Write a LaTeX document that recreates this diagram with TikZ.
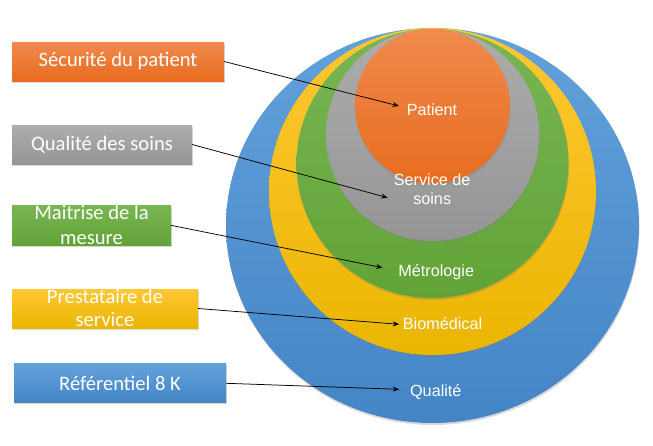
\documentclass[tikz,border=0pt]{standalone}
\usepackage{fontspec}
\setmainfont{Carlito}
\newfontfamily\arialf{Liberation Sans}
\usetikzlibrary{shapes.geometric,shadows,arrows.meta}
\definecolor{orT}{HTML}{F08A4D}\definecolor{orB}{HTML}{E86C1F}
\definecolor{grT}{HTML}{ADADAD}\definecolor{grB}{HTML}{959595}
\definecolor{gnT}{HTML}{78B653}\definecolor{gnB}{HTML}{62A337}
\definecolor{yeT}{HTML}{FFC734}\definecolor{yeB}{HTML}{EAB600}
\definecolor{blT}{HTML}{62A1DA}\definecolor{blB}{HTML}{4485C6}
\tikzset{
  ring/.style={ellipse, inner sep=0pt, drop shadow={shadow xshift=0.5pt, shadow yshift=-2pt, opacity=0.3}},
  bbox/.style={rectangle, inner sep=0pt, minimum height=39pt, drop shadow={shadow xshift=1pt, shadow yshift=-1.5pt, opacity=0.3}},
  btext/.style={text=white, align=center, inner sep=0pt, font=\fontsize{20.6}{25}\selectfont},
  ltext/.style={text=white, align=center, inner sep=0pt, anchor=base, font=\arialf\fontsize{16.2}{18.7}\selectfont},
  conn/.style={draw=black, line width=0.75pt, -{Stealth[length=6.5pt,width=5pt]}}
}
\begin{document}
\begin{tikzpicture}[x=1pt,y=-1pt]
\useasboundingbox (0,0) rectangle (653,445);
% circles
\node[ring, minimum width=413pt, minimum height=395pt, top color=blT, bottom color=blB] (cQual) at (432.5,225.5) {};
\node[ring, minimum width=327pt, minimum height=327pt, top color=yeT, bottom color=yeB] (cBio) at (432.5,191.5) {};
\node[ring, minimum width=272pt, minimum height=269pt, top color=gnT, bottom color=gnB] (cMet) at (432.5,163.5) {};
\node[ring, minimum width=213.4pt, minimum height=212pt, top color=grT, bottom color=grB] (cSer) at (432.7,135) {};
\node[ring, minimum width=155pt, minimum height=155pt, top color=orT, bottom color=orB] (cPat) at (432.5,106) {};
% circle labels
\node[ltext] (lPat) at (432,115) {Patient};
\node[ltext] (lSer) at (432.2,204) {Service de\\soins};
\node[ltext] (lMet) at (436.2,276) {Métrologie};
\node[ltext] (lBio) at (442.5,329.3) {Biomédical};
\node[ltext] (lQual) at (435.8,396) {Qualité};
% boxes
\node[bbox, minimum width=212pt, top color=orT, bottom color=orB] (b1) at (118,61.5) {};
\node[btext] at (b1) {Sécurité du patient};
\node[bbox, minimum width=180pt, top color=grT, bottom color=grB] (b2) at (102,144.5) {};
\node[btext] at (b2) {Qualité des soins};
\node[bbox, minimum width=159pt, minimum height=39.3pt, top color=gnT, bottom color=gnB] (b3) at (91.5,225.4) {};
\node[btext] at (91.5,225.4) {Maitrise de la\\mesure};
\node[bbox, minimum width=186pt, top color=yeT, bottom color=yeB] (b4) at (105,308.5) {};
\node[btext, font=\fontsize{20.6}{23.7}\selectfont] at (105,308) {Prestataire de\\service};
\node[bbox, minimum width=212pt, minimum height=38.7pt, top color=blT, bottom color=blB] (b5) at (120,383.3) {};
\node[btext] at (b5) {Référentiel 8 K};
% arrow tips
\coordinate (tPat) at (399,106);
\coordinate (tSer) at (387.7,197.7);
\coordinate (tMet) at (382.7,267.7);
\coordinate (tBio) at (399.3,324.3);
\coordinate (tQual) at (399.3,389.3);
% connectors
\draw[conn] (b1.east) -- (tPat);
\draw[conn] (b2.east) -- (tSer);
\draw[conn] (b3.east) -- (tMet);
\draw[conn] (b4.east) -- (tBio);
\draw[conn] (b5.east) -- (tQual);
\end{tikzpicture}
\end{document}
